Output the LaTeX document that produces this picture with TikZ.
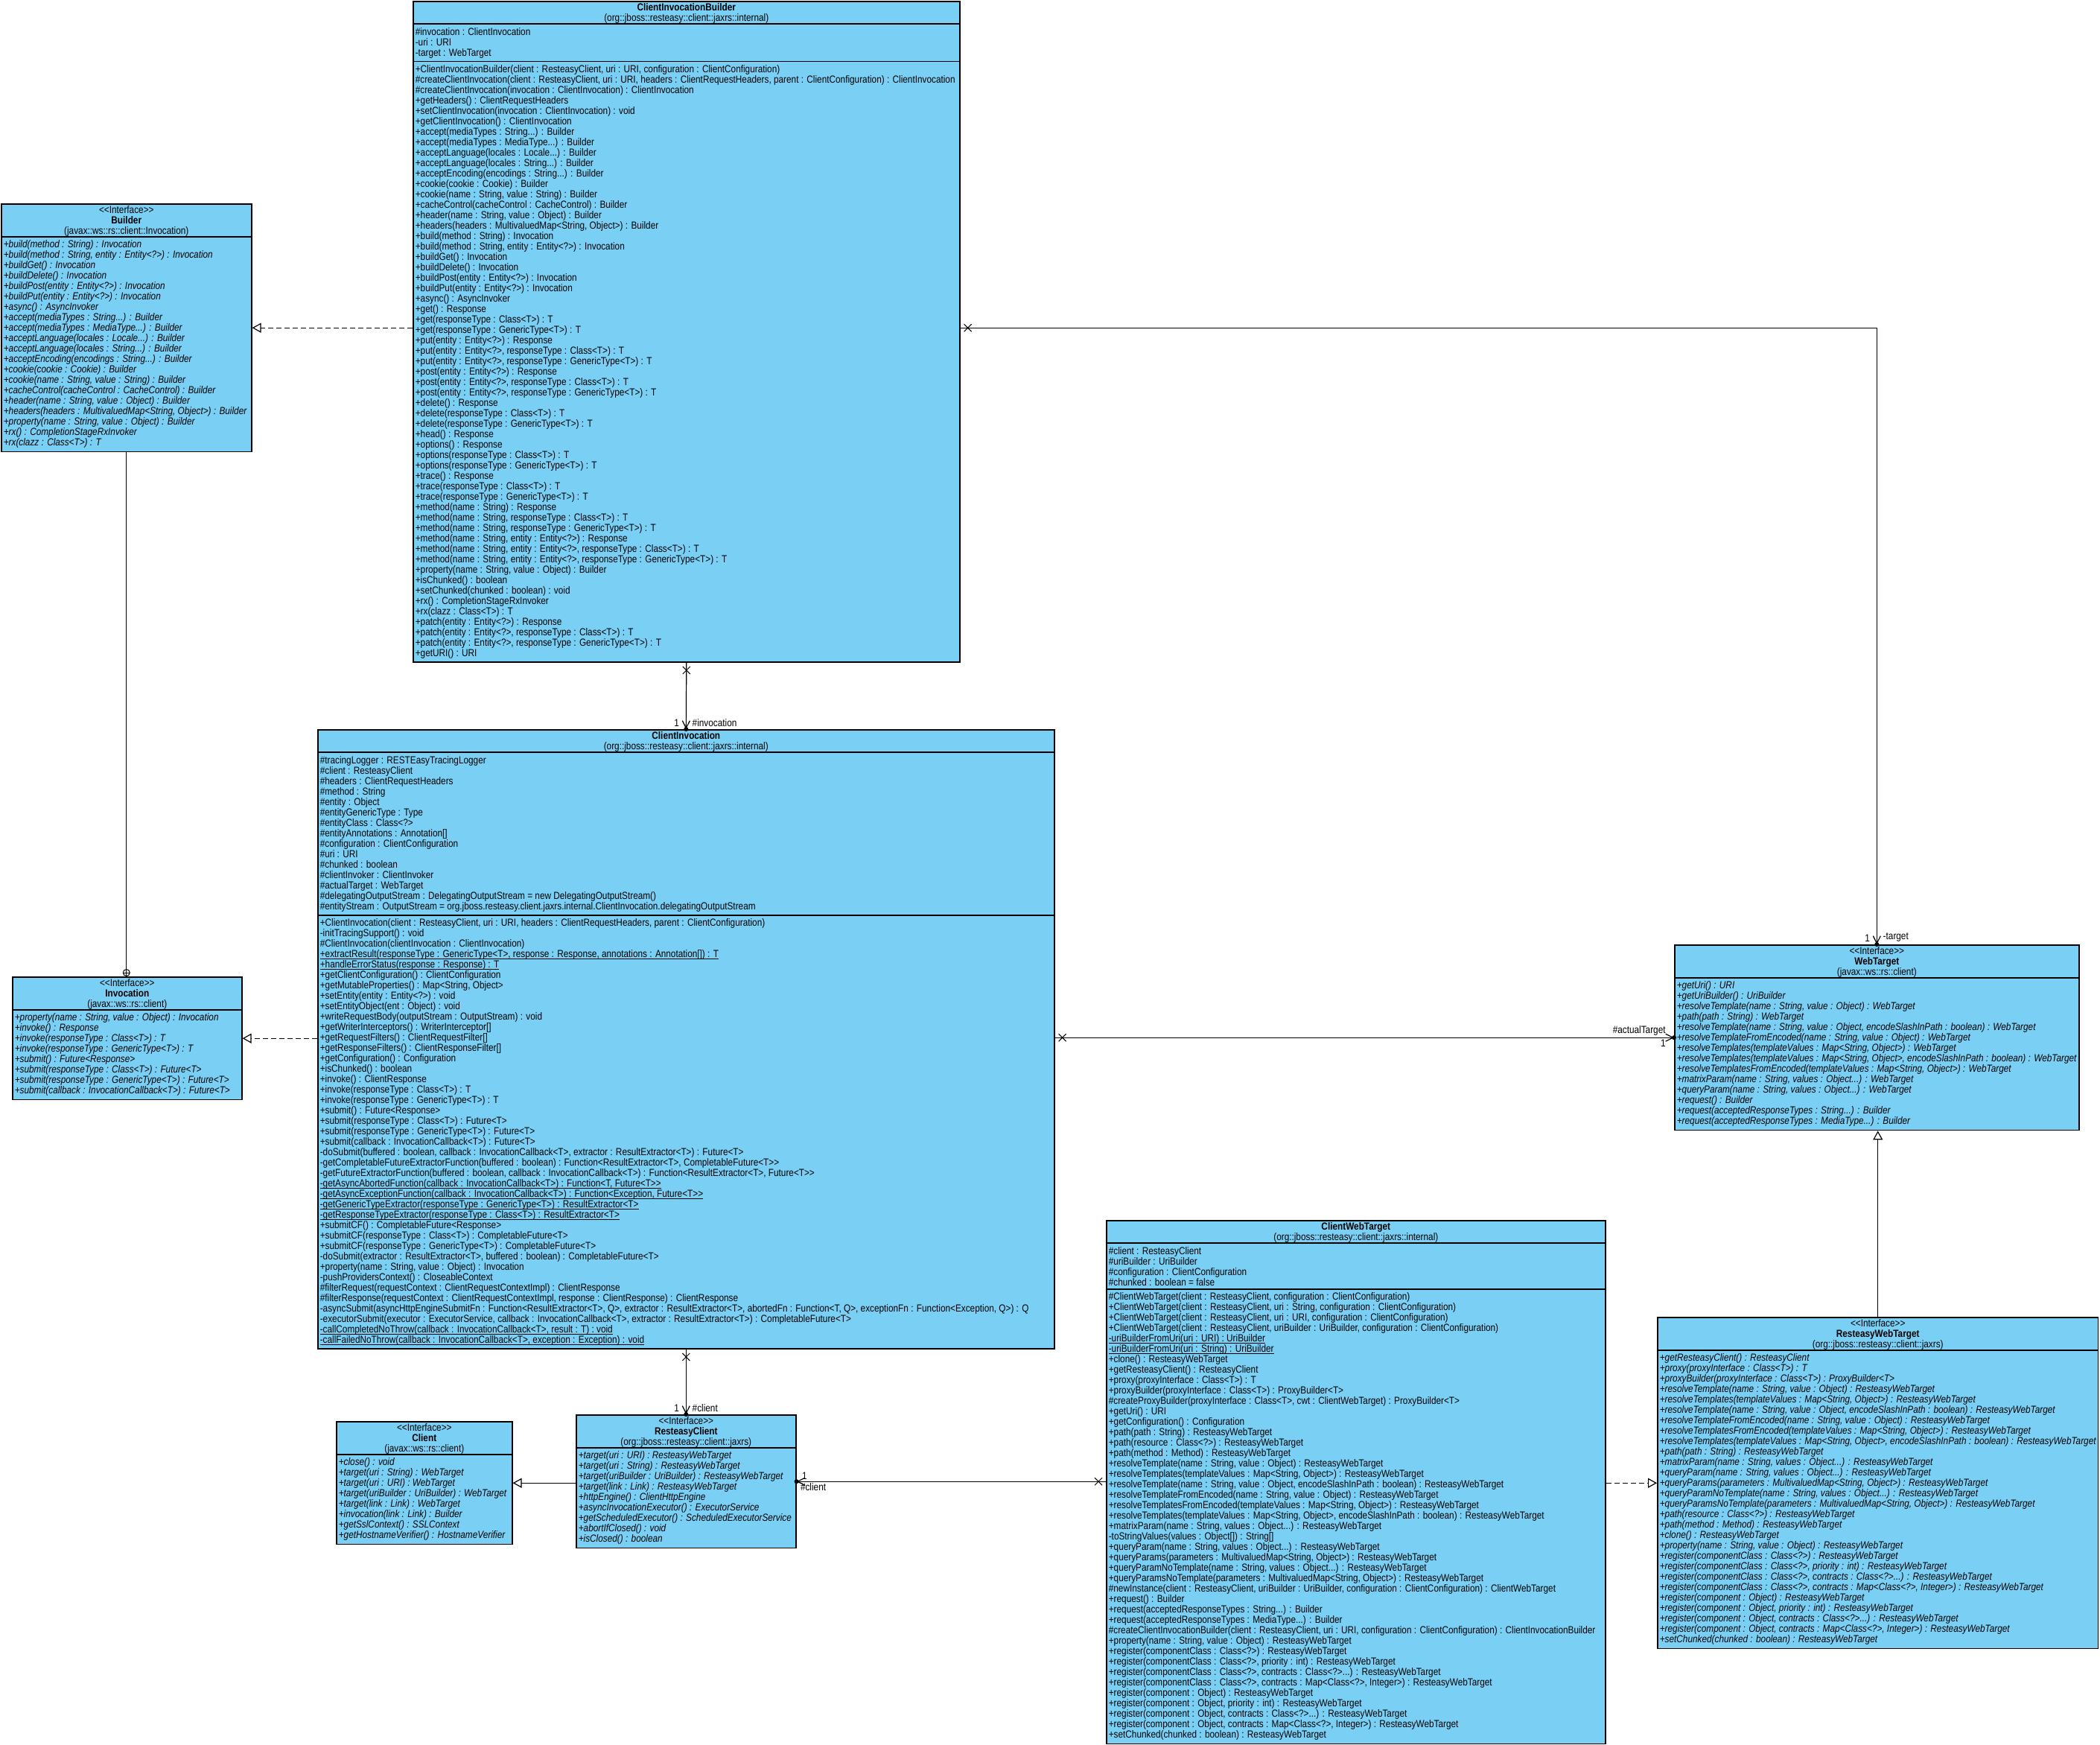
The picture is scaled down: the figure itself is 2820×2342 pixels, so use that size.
\documentclass[tikz,border=0pt]{standalone}
\usepackage{fontspec}
\newfontfamily\umlfamily{Liberation Sans}[FakeStretch=0.855]
\usetikzlibrary{arrows.meta, positioning, shapes.multipart, shapes.misc}

\definecolor{classblue}{HTML}{7ACFF5}

% box headers
\newcommand{\classhead}[2]{%
  \def\arraystretch{0.93}%
  \raisebox{0pt}[\dimexpr\height-1pt][\dimexpr\depth-2.5pt]{%
    \begin{tabular}{@{}c@{}}\textbf{#1}\\(#2)\end{tabular}}}
\newcommand{\ifacehead}[2]{%
  \def\arraystretch{0.93}%
  \raisebox{0pt}[\dimexpr\height-1pt][\dimexpr\depth-2.5pt]{%
    \begin{tabular}{@{}c@{}}\upshape<<Interface>>\\\upshape\textbf{#1}\\\upshape(#2)\end{tabular}}}
% static members, underlined close to the baseline
\newcommand{\staticop}[1]{%
  \setbox0\hbox{#1}\rlap{\rule[-1.2pt]{\wd0}{0.35pt}}\box0}

\begin{document}
\begin{tikzpicture}[
  x=0.5pt, y=-0.5pt,
  every node/.style={font=\umlfamily\fontsize{6.9}{7}\selectfont},
  classbox/.style={
    rectangle split,
    rectangle split parts=3,
    rectangle split part align={center, left, left},
    draw,
    fill=classblue,
    align=left,
    anchor=north west,
    inner xsep=1.5pt,
    inner ysep=2pt,
    line width=0.8pt
  },
  ifacebox/.style={
    classbox,
    rectangle split parts=2,
    rectangle split part align={center, left},
    font=\umlfamily\fontsize{6.9}{7}\selectfont\itshape
  },
  xmark/.style={cross out, draw, minimum size=4.5pt, inner sep=0pt, line width=0.5pt},
  ownerdot/.style={circle, fill, minimum size=3pt, inner sep=0pt},
  nestmark/.style={
    circle, draw, fill=white, minimum size=4.5pt, inner sep=0pt, line width=0.5pt,
    path picture={\draw (path picture bounding box.north) -- (path picture bounding box.south)
      (path picture bounding box.west) -- (path picture bounding box.east);}
  },
  rolelabel/.style={inner sep=0.5pt},
  assoc/.style={line width=0.6pt, -{Straight Barb[length=5pt, width=5pt]}},
  realize/.style={line width=0.6pt, dash pattern=on 3.5pt off 2pt, -{Triangle[open, length=6pt, width=6.5pt]}},
  inherit/.style={line width=0.6pt, -{Triangle[open, length=6pt, width=6.5pt]}}
]

\path[use as bounding box, fill=white] (0,0) rectangle (2820,2342);

% ------------------------------------------------------------
% javax::ws::rs::client interfaces
% ------------------------------------------------------------

\node[ifacebox, minimum width=168pt] (builder) at (1,273) {%
\ifacehead{Builder}{javax::ws::rs::client::Invocation}
\nodepart{second}
+build(method : String) : Invocation\\
+build(method : String, entity : Entity<?>) : Invocation\\
+buildGet() : Invocation\\
+buildDelete() : Invocation\\
+buildPost(entity : Entity<?>) : Invocation\\
+buildPut(entity : Entity<?>) : Invocation\\
+async() : AsyncInvoker\\
+accept(mediaTypes : String...) : Builder\\
+accept(mediaTypes : MediaType...) : Builder\\
+acceptLanguage(locales : Locale...) : Builder\\
+acceptLanguage(locales : String...) : Builder\\
+acceptEncoding(encodings : String...) : Builder\\
+cookie(cookie : Cookie) : Builder\\
+cookie(name : String, value : String) : Builder\\
+cacheControl(cacheControl : CacheControl) : Builder\\
+header(name : String, value : Object) : Builder\\
+headers(headers : MultivaluedMap<String, Object>) : Builder\\
+property(name : String, value : Object) : Builder\\
+rx() : CompletionStageRxInvoker\\
+rx(clazz : Class<T>) : T};

\node[ifacebox, minimum width=154pt] (invocation) at (16,1311) {%
\ifacehead{Invocation}{javax::ws::rs::client}
\nodepart{second}
+property(name : String, value : Object) : Invocation\\
+invoke() : Response\\
+invoke(responseType : Class<T>) : T\\
+invoke(responseType : GenericType<T>) : T\\
+submit() : Future<Response>\\
+submit(responseType : Class<T>) : Future<T>\\
+submit(responseType : GenericType<T>) : Future<T>\\
+submit(callback : InvocationCallback<T>) : Future<T>};

\node[ifacebox, minimum width=271.5pt] (webtarget) at (2248,1268) {%
\ifacehead{WebTarget}{javax::ws::rs::client}
\nodepart{second}
+getUri() : URI\\
+getUriBuilder() : UriBuilder\\
+resolveTemplate(name : String, value : Object) : WebTarget\\
+path(path : String) : WebTarget\\
+resolveTemplate(name : String, value : Object, encodeSlashInPath : boolean) : WebTarget\\
+resolveTemplateFromEncoded(name : String, value : Object) : WebTarget\\
+resolveTemplates(templateValues : Map<String, Object>) : WebTarget\\
+resolveTemplates(templateValues : Map<String, Object>, encodeSlashInPath : boolean) : WebTarget\\
+resolveTemplatesFromEncoded(templateValues : Map<String, Object>) : WebTarget\\
+matrixParam(name : String, values : Object...) : WebTarget\\
+queryParam(name : String, values : Object...) : WebTarget\\
+request() : Builder\\
+request(acceptedResponseTypes : String...) : Builder\\
+request(acceptedResponseTypes : MediaType...) : Builder};

\node[ifacebox, minimum width=118pt] (client) at (451,1908) {%
\ifacehead{Client}{javax::ws::rs::client}
\nodepart{second}
+close() : void\\
+target(uri : String) : WebTarget\\
+target(uri : URI) : WebTarget\\
+target(uriBuilder : UriBuilder) : WebTarget\\
+target(link : Link) : WebTarget\\
+invocation(link : Link) : Builder\\
+getSslContext() : SSLContext\\
+getHostnameVerifier() : HostnameVerifier};

% ------------------------------------------------------------
% org::jboss::resteasy::client::jaxrs interfaces
% ------------------------------------------------------------

\node[ifacebox, minimum width=147.5pt] (resteasyclient) at (773,1899) {%
\ifacehead{ResteasyClient}{org::jboss::resteasy::client::jaxrs}
\nodepart{second}
+target(uri : URI) : ResteasyWebTarget\\
+target(uri : String) : ResteasyWebTarget\\
+target(uriBuilder : UriBuilder) : ResteasyWebTarget\\
+target(link : Link) : ResteasyWebTarget\\
+httpEngine() : ClientHttpEngine\\
+asyncInvocationExecutor() : ExecutorService\\
+getScheduledExecutor() : ScheduledExecutorService\\
+abortIfClosed() : void\\
+isClosed() : boolean};

\node[ifacebox, minimum width=295pt] (resteasywebtarget) at (2225,1768) {%
\ifacehead{ResteasyWebTarget}{org::jboss::resteasy::client::jaxrs}
\nodepart{second}
+getResteasyClient() : ResteasyClient\\
+proxy(proxyInterface : Class<T>) : T\\
+proxyBuilder(proxyInterface : Class<T>) : ProxyBuilder<T>\\
+resolveTemplate(name : String, value : Object) : ResteasyWebTarget\\
+resolveTemplates(templateValues : Map<String, Object>) : ResteasyWebTarget\\
+resolveTemplate(name : String, value : Object, encodeSlashInPath : boolean) : ResteasyWebTarget\\
+resolveTemplateFromEncoded(name : String, value : Object) : ResteasyWebTarget\\
+resolveTemplatesFromEncoded(templateValues : Map<String, Object>) : ResteasyWebTarget\\
+resolveTemplates(templateValues : Map<String, Object>, encodeSlashInPath : boolean) : ResteasyWebTarget\\
+path(path : String) : ResteasyWebTarget\\
+matrixParam(name : String, values : Object...) : ResteasyWebTarget\\
+queryParam(name : String, values : Object...) : ResteasyWebTarget\\
+queryParams(parameters : MultivaluedMap<String, Object>) : ResteasyWebTarget\\
+queryParamNoTemplate(name : String, values : Object...) : ResteasyWebTarget\\
+queryParamsNoTemplate(parameters : MultivaluedMap<String, Object>) : ResteasyWebTarget\\
+path(resource : Class<?>) : ResteasyWebTarget\\
+path(method : Method) : ResteasyWebTarget\\
+clone() : ResteasyWebTarget\\
+property(name : String, value : Object) : ResteasyWebTarget\\
+register(componentClass : Class<?>) : ResteasyWebTarget\\
+register(componentClass : Class<?>, priority : int) : ResteasyWebTarget\\
+register(componentClass : Class<?>, contracts : Class<?>...) : ResteasyWebTarget\\
+register(componentClass : Class<?>, contracts : Map<Class<?>, Integer>) : ResteasyWebTarget\\
+register(component : Object) : ResteasyWebTarget\\
+register(component : Object, priority : int) : ResteasyWebTarget\\
+register(component : Object, contracts : Class<?>...) : ResteasyWebTarget\\
+register(component : Object, contracts : Map<Class<?>, Integer>) : ResteasyWebTarget\\
+setChunked(chunked : boolean) : ResteasyWebTarget};

% ------------------------------------------------------------
% org::jboss::resteasy::client::jaxrs::internal classes
% ------------------------------------------------------------

\node[classbox, minimum width=367pt] (invocationbuilder) at (554,1) {%
\classhead{ClientInvocationBuilder}{org::jboss::resteasy::client::jaxrs::internal}
\nodepart{second}
\#invocation : ClientInvocation\\
-uri : URI\\
-target : WebTarget
\nodepart{third}
+ClientInvocationBuilder(client : ResteasyClient, uri : URI, configuration : ClientConfiguration)\\
\#createClientInvocation(client : ResteasyClient, uri : URI, headers : ClientRequestHeaders, parent : ClientConfiguration) : ClientInvocation\\
\#createClientInvocation(invocation : ClientInvocation) : ClientInvocation\\
+getHeaders() : ClientRequestHeaders\\
+setClientInvocation(invocation : ClientInvocation) : void\\
+getClientInvocation() : ClientInvocation\\
+accept(mediaTypes : String...) : Builder\\
+accept(mediaTypes : MediaType...) : Builder\\
+acceptLanguage(locales : Locale...) : Builder\\
+acceptLanguage(locales : String...) : Builder\\
+acceptEncoding(encodings : String...) : Builder\\
+cookie(cookie : Cookie) : Builder\\
+cookie(name : String, value : String) : Builder\\
+cacheControl(cacheControl : CacheControl) : Builder\\
+header(name : String, value : Object) : Builder\\
+headers(headers : MultivaluedMap<String, Object>) : Builder\\
+build(method : String) : Invocation\\
+build(method : String, entity : Entity<?>) : Invocation\\
+buildGet() : Invocation\\
+buildDelete() : Invocation\\
+buildPost(entity : Entity<?>) : Invocation\\
+buildPut(entity : Entity<?>) : Invocation\\
+async() : AsyncInvoker\\
+get() : Response\\
+get(responseType : Class<T>) : T\\
+get(responseType : GenericType<T>) : T\\
+put(entity : Entity<?>) : Response\\
+put(entity : Entity<?>, responseType : Class<T>) : T\\
+put(entity : Entity<?>, responseType : GenericType<T>) : T\\
+post(entity : Entity<?>) : Response\\
+post(entity : Entity<?>, responseType : Class<T>) : T\\
+post(entity : Entity<?>, responseType : GenericType<T>) : T\\
+delete() : Response\\
+delete(responseType : Class<T>) : T\\
+delete(responseType : GenericType<T>) : T\\
+head() : Response\\
+options() : Response\\
+options(responseType : Class<T>) : T\\
+options(responseType : GenericType<T>) : T\\
+trace() : Response\\
+trace(responseType : Class<T>) : T\\
+trace(responseType : GenericType<T>) : T\\
+method(name : String) : Response\\
+method(name : String, responseType : Class<T>) : T\\
+method(name : String, responseType : GenericType<T>) : T\\
+method(name : String, entity : Entity<?>) : Response\\
+method(name : String, entity : Entity<?>, responseType : Class<T>) : T\\
+method(name : String, entity : Entity<?>, responseType : GenericType<T>) : T\\
+property(name : String, value : Object) : Builder\\
+isChunked() : boolean\\
+setChunked(chunked : boolean) : void\\
+rx() : CompletionStageRxInvoker\\
+rx(clazz : Class<T>) : T\\
+patch(entity : Entity<?>) : Response\\
+patch(entity : Entity<?>, responseType : Class<T>) : T\\
+patch(entity : Entity<?>, responseType : GenericType<T>) : T\\
+getURI() : URI};

\node[classbox, minimum width=494.5pt] (invocationimpl) at (426,979) {%
\classhead{ClientInvocation}{org::jboss::resteasy::client::jaxrs::internal}
\nodepart{second}
\#tracingLogger : RESTEasyTracingLogger\\
\#client : ResteasyClient\\
\#headers : ClientRequestHeaders\\
\#method : String\\
\#entity : Object\\
\#entityGenericType : Type\\
\#entityClass : Class<?>\\
\#entityAnnotations : Annotation[]\\
\#configuration : ClientConfiguration\\
\#uri : URI\\
\#chunked : boolean\\
\#clientInvoker : ClientInvoker\\
\#actualTarget : WebTarget\\
\#delegatingOutputStream : DelegatingOutputStream = new DelegatingOutputStream()\\
\#entityStream : OutputStream = org.jboss.resteasy.client.jaxrs.internal.ClientInvocation.delegatingOutputStream
\nodepart{third}
+ClientInvocation(client : ResteasyClient, uri : URI, headers : ClientRequestHeaders, parent : ClientConfiguration)\\
-initTracingSupport() : void\\
\#ClientInvocation(clientInvocation : ClientInvocation)\\
\staticop{+extractResult(responseType : GenericType<T>, response : Response, annotations : Annotation[]) : T}\\
\staticop{+handleErrorStatus(response : Response) : T}\\
+getClientConfiguration() : ClientConfiguration\\
+getMutableProperties() : Map<String, Object>\\
+setEntity(entity : Entity<?>) : void\\
+setEntityObject(ent : Object) : void\\
+writeRequestBody(outputStream : OutputStream) : void\\
+getWriterInterceptors() : WriterInterceptor[]\\
+getRequestFilters() : ClientRequestFilter[]\\
+getResponseFilters() : ClientResponseFilter[]\\
+getConfiguration() : Configuration\\
+isChunked() : boolean\\
+invoke() : ClientResponse\\
+invoke(responseType : Class<T>) : T\\
+invoke(responseType : GenericType<T>) : T\\
+submit() : Future<Response>\\
+submit(responseType : Class<T>) : Future<T>\\
+submit(responseType : GenericType<T>) : Future<T>\\
+submit(callback : InvocationCallback<T>) : Future<T>\\
-doSubmit(buffered : boolean, callback : InvocationCallback<T>, extractor : ResultExtractor<T>) : Future<T>\\
-getCompletableFutureExtractorFunction(buffered : boolean) : Function<ResultExtractor<T>, CompletableFuture<T>>\\
-getFutureExtractorFunction(buffered : boolean, callback : InvocationCallback<T>) : Function<ResultExtractor<T>, Future<T>>\\
\staticop{-getAsyncAbortedFunction(callback : InvocationCallback<T>) : Function<T, Future<T>>}\\
\staticop{-getAsyncExceptionFunction(callback : InvocationCallback<T>) : Function<Exception, Future<T>>}\\
\staticop{-getGenericTypeExtractor(responseType : GenericType<T>) : ResultExtractor<T>}\\
\staticop{-getResponseTypeExtractor(responseType : Class<T>) : ResultExtractor<T>}\\
+submitCF() : CompletableFuture<Response>\\
+submitCF(responseType : Class<T>) : CompletableFuture<T>\\
+submitCF(responseType : GenericType<T>) : CompletableFuture<T>\\
-doSubmit(extractor : ResultExtractor<T>, buffered : boolean) : CompletableFuture<T>\\
+property(name : String, value : Object) : Invocation\\
-pushProvidersContext() : CloseableContext\\
\#filterRequest(requestContext : ClientRequestContextImpl) : ClientResponse\\
\#filterResponse(requestContext : ClientRequestContextImpl, response : ClientResponse) : ClientResponse\\
-asyncSubmit(asyncHttpEngineSubmitFn : Function<ResultExtractor<T>, Q>, extractor : ResultExtractor<T>, abortedFn : Function<T, Q>, exceptionFn : Function<Exception, Q>) : Q\\
-executorSubmit(executor : ExecutorService, callback : InvocationCallback<T>, extractor : ResultExtractor<T>) : CompletableFuture<T>\\
\staticop{-callCompletedNoThrow(callback : InvocationCallback<T>, result : T) : void}\\
\staticop{-callFailedNoThrow(callback : InvocationCallback<T>, exception : Exception) : void}};

\node[classbox, minimum width=335pt] (clientwebtarget) at (1485,1638) {%
\classhead{ClientWebTarget}{org::jboss::resteasy::client::jaxrs::internal}
\nodepart{second}
\#client : ResteasyClient\\
\#uriBuilder : UriBuilder\\
\#configuration : ClientConfiguration\\
\#chunked : boolean = false
\nodepart{third}
\#ClientWebTarget(client : ResteasyClient, configuration : ClientConfiguration)\\
+ClientWebTarget(client : ResteasyClient, uri : String, configuration : ClientConfiguration)\\
+ClientWebTarget(client : ResteasyClient, uri : URI, configuration : ClientConfiguration)\\
+ClientWebTarget(client : ResteasyClient, uriBuilder : UriBuilder, configuration : ClientConfiguration)\\
\staticop{-uriBuilderFromUri(uri : URI) : UriBuilder}\\
\staticop{-uriBuilderFromUri(uri : String) : UriBuilder}\\
+clone() : ResteasyWebTarget\\
+getResteasyClient() : ResteasyClient\\
+proxy(proxyInterface : Class<T>) : T\\
+proxyBuilder(proxyInterface : Class<T>) : ProxyBuilder<T>\\
\#createProxyBuilder(proxyInterface : Class<T>, cwt : ClientWebTarget) : ProxyBuilder<T>\\
+getUri() : URI\\
+getConfiguration() : Configuration\\
+path(path : String) : ResteasyWebTarget\\
+path(resource : Class<?>) : ResteasyWebTarget\\
+path(method : Method) : ResteasyWebTarget\\
+resolveTemplate(name : String, value : Object) : ResteasyWebTarget\\
+resolveTemplates(templateValues : Map<String, Object>) : ResteasyWebTarget\\
+resolveTemplate(name : String, value : Object, encodeSlashInPath : boolean) : ResteasyWebTarget\\
+resolveTemplateFromEncoded(name : String, value : Object) : ResteasyWebTarget\\
+resolveTemplatesFromEncoded(templateValues : Map<String, Object>) : ResteasyWebTarget\\
+resolveTemplates(templateValues : Map<String, Object>, encodeSlashInPath : boolean) : ResteasyWebTarget\\
+matrixParam(name : String, values : Object...) : ResteasyWebTarget\\
-toStringValues(values : Object[]) : String[]\\
+queryParam(name : String, values : Object...) : ResteasyWebTarget\\
+queryParams(parameters : MultivaluedMap<String, Object>) : ResteasyWebTarget\\
+queryParamNoTemplate(name : String, values : Object...) : ResteasyWebTarget\\
+queryParamsNoTemplate(parameters : MultivaluedMap<String, Object>) : ResteasyWebTarget\\
\#newInstance(client : ResteasyClient, uriBuilder : UriBuilder, configuration : ClientConfiguration) : ClientWebTarget\\
+request() : Builder\\
+request(acceptedResponseTypes : String...) : Builder\\
+request(acceptedResponseTypes : MediaType...) : Builder\\
\#createClientInvocationBuilder(client : ResteasyClient, uri : URI, configuration : ClientConfiguration) : ClientInvocationBuilder\\
+property(name : String, value : Object) : ResteasyWebTarget\\
+register(componentClass : Class<?>) : ResteasyWebTarget\\
+register(componentClass : Class<?>, priority : int) : ResteasyWebTarget\\
+register(componentClass : Class<?>, contracts : Class<?>...) : ResteasyWebTarget\\
+register(componentClass : Class<?>, contracts : Map<Class<?>, Integer>) : ResteasyWebTarget\\
+register(component : Object) : ResteasyWebTarget\\
+register(component : Object, priority : int) : ResteasyWebTarget\\
+register(component : Object, contracts : Class<?>...) : ResteasyWebTarget\\
+register(component : Object, contracts : Map<Class<?>, Integer>) : ResteasyWebTarget\\
+setChunked(chunked : boolean) : ResteasyWebTarget};

% ------------------------------------------------------------
% Realizations, generalizations and nesting
% ------------------------------------------------------------

\draw[realize] (invocationbuilder.west |- builder.east) -- (builder.east);
\draw[realize] (invocationimpl.west |- invocation.east) -- (invocation.east);
\draw[realize] (clientwebtarget.east |- resteasywebtarget.west) -- (resteasywebtarget.west);
\draw[inherit] (resteasyclient.west |- client.east) -- (client.east);
\draw[inherit] (resteasywebtarget.north) -- (resteasywebtarget.north |- webtarget.south);
\draw[line width=0.6pt] (builder.south) -- (builder.south |- invocation.north)
  node[nestmark, at end, anchor=south] {};

% ------------------------------------------------------------
% Associations
% ------------------------------------------------------------

\draw[assoc] (invocationbuilder.east |- builder.east) -| node[xmark, at start, xshift=5pt] {}
  node[ownerdot, at end] {} (webtarget.north);
\draw[assoc] (invocationbuilder.south) -- node[xmark, at start, yshift=-5pt] {}
  node[ownerdot, at end] {} (invocationimpl.north);
\draw[assoc] (invocationimpl.east |- webtarget.west) -- node[xmark, at start, xshift=5pt] {}
  node[ownerdot, at end] {} (webtarget.west);
\draw[assoc] (invocationimpl.south) -- node[xmark, at start, yshift=-5pt] {}
  node[ownerdot, at end] {} (resteasyclient.north);
\draw[assoc] (clientwebtarget.west |- resteasyclient.east) -- node[xmark, at start, xshift=-5pt] {}
  node[ownerdot, at end] {} (resteasyclient.east);

% ------------------------------------------------------------
% Multiplicities and roles
% ------------------------------------------------------------

\node[rolelabel, above left=1pt and 4pt of webtarget.north] (targetmult) {1};
\node[rolelabel, above right=1pt and 3.5pt of webtarget.north] (targetrole) {-target};
\node[rolelabel, above left=1pt and 4pt of invocationimpl.north] (invocationmult) {1};
\node[rolelabel, above right=1pt and 3.5pt of invocationimpl.north] (invocationrole) {\#invocation};
\node[rolelabel, above left=0.5pt and 5pt of webtarget.west] (actualrole) {\#actualTarget};
\node[rolelabel, below left=0.5pt and 5pt of webtarget.west] (actualmult) {1};
\node[rolelabel, above left=1pt and 4pt of resteasyclient.north] (clientmult) {1};
\node[rolelabel, above right=1pt and 3.5pt of resteasyclient.north] (clientrole) {\#client};
\node[rolelabel, above right=0.5pt and 3pt of resteasyclient.east] (webclientmult) {1};
\node[rolelabel, below right=0.5pt and 2pt of resteasyclient.east] (webclientrole) {\#client};

\end{tikzpicture}
\end{document}
